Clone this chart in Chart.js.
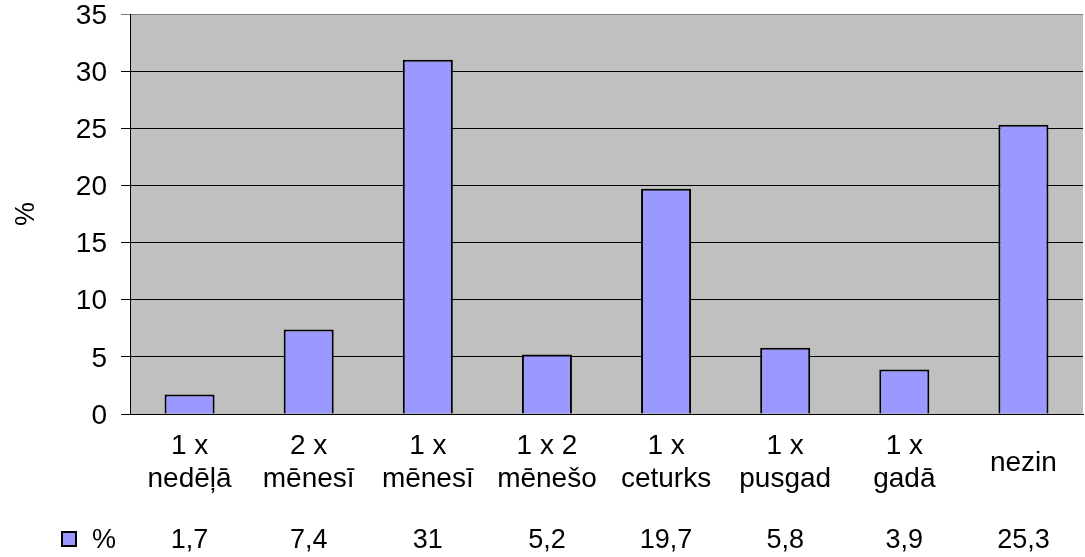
<!DOCTYPE html>
<html><head><meta charset="utf-8">
<script src="https://cdn.jsdelivr.net/npm/chart.js@4/dist/chart.umd.min.js"></script>
<style>html,body{margin:0;padding:0;background:#fff}#wrap{width:1085px;height:557px}</style>
</head><body><div id="wrap"><canvas id="c" width="1085" height="557"></canvas></div>
<script>
const categories = [['1 x','nedēļā'],['2 x','mēnesī'],['1 x','mēnesī'],['1 x 2','mēnešo'],['1 x','ceturks'],['1 x','pusgad'],['1 x','gadā'],'nezin'];
const seriesName = '%';
const values = [1.7, 7.4, 31, 5.2, 19.7, 5.8, 3.9, 25.3];
const yMin = 0, yMax = 35, yStep = 5;

const FONT = "'Liberation Sans', Arial, sans-serif";
const FS = 27;
const BAR = '#9999FF';

const plotBg = {
  id: 'plotBg',
  beforeDraw(chart) {
    const {ctx, chartArea: a} = chart;
    ctx.save();
    ctx.fillStyle = '#C0C0C0';
    ctx.fillRect(a.left, a.top, a.right - a.left, a.bottom - a.top);
    ctx.restore();
  },
  afterDraw(chart) {
    const {ctx} = chart;
    const x = chart.scales.x;
    const rowY = 541;
    ctx.save();
    ctx.font = FS + 'px ' + FONT;
    ctx.textBaseline = 'middle';
    // legend key
    ctx.fillStyle = BAR;
    ctx.fillRect(62, 532, 14, 14);
    ctx.strokeStyle = '#000';
    ctx.lineWidth = 2;
    ctx.strokeRect(62, 532, 14, 14);
    ctx.fillStyle = '#000';
    ctx.textAlign = 'left';
    ctx.fillText(seriesName, 92, rowY);
    ctx.textAlign = 'center';
    values.forEach((v, i) => {
      ctx.fillText(String(v).replace('.', ','), x.getPixelForValue(i), rowY);
    });
    ctx.restore();
  }
};

new Chart(document.getElementById('c'), {
  type: 'bar',
  data: {
    labels: categories,
    datasets: [{
      label: seriesName,
      data: values,
      backgroundColor: BAR,
      borderColor: '#000',
      borderWidth: 2,
      borderSkipped: 'bottom',
      categoryPercentage: 1,
      barPercentage: 0.42
    }]
  },
  options: {
    responsive: false,
    animation: false,
    devicePixelRatio: 1,
    layout: {padding: {left: 0, right: 2, top: 14, bottom: 63}},
    plugins: {legend: {display: false}, tooltip: {enabled: false}},
    scales: {
      x: {
        offset: true,
        grid: {drawOnChartArea: false, drawTicks: false, color: '#000'},
        border: {display: true, color: '#000', width: 1},
        ticks: {color: '#000', font: {family: FONT, size: 28, lineHeight: 1.2}, padding: 32, maxRotation: 0, autoSkip: false, crossAlign: 'center'},
        afterFit(s) { s.height = 80; s.paddingLeft = 0; s.paddingRight = 0; }
      },
      y: {
        min: yMin, max: yMax,
        grid: {color: (c) => (c.tick && c.tick.value === yMax ? '#808080' : '#000'), tickLength: 9, lineWidth: 1},
        border: {display: true, color: '#000', width: 1},
        ticks: {stepSize: yStep, color: '#000', font: {family: FONT, size: 28}, padding: 14, labelOffset: 2},
        title: {display: true, text: seriesName, color: '#000', font: {family: FONT, size: FS}, padding: {top: 10, bottom: 0}},
        afterFit(s) { s.width = 130; s.paddingTop = 0; s.paddingBottom = 0; }
      }
    }
  },
  plugins: [plotBg]
});
</script></body></html>
